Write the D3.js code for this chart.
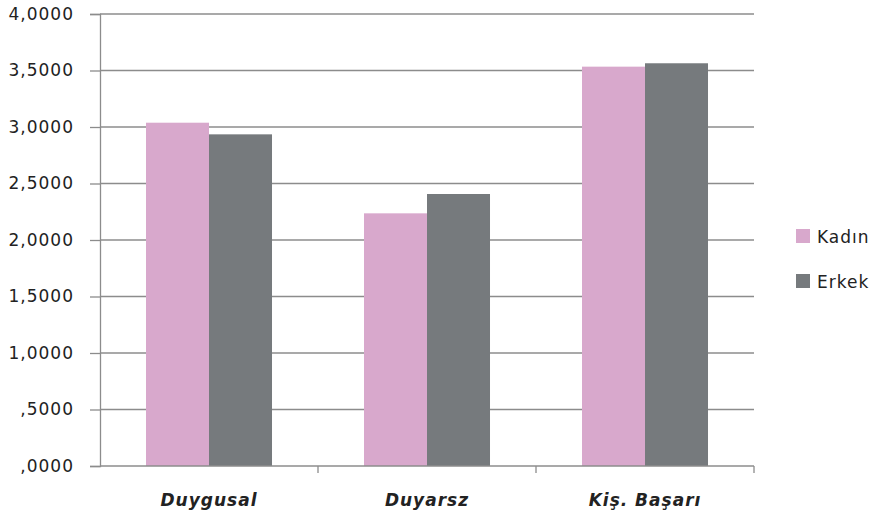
<!DOCTYPE html>
<html>
<head>
<meta charset="utf-8">
<script src="https://cdn.jsdelivr.net/npm/d3@7"></script>
<style>
  html, body { margin: 0; padding: 0; background: #fff; }
  svg { display: block; }
  text { font-family: "DejaVu Sans", sans-serif; }
</style>
</head>
<body>
<svg id="chart" width="876" height="515"></svg>
<script>
// Mean scores by dimension and gender
const categories = ["Duygusal", "Duyarsz", "Kiş. Başarı"];
const seriesNames = ["Kadın", "Erkek"];
const kadin = [3.038, 2.236, 3.534];
const erkek = [2.935, 2.407, 3.564];
const yTicks = [0, 0.5, 1, 1.5, 2, 2.5, 3, 3.5, 4];

const colors = { "Kadın": "#d8a8cc", "Erkek": "#767a7d" };
const textColor = "#222";
const lineColor = "#8c8c8c";
const fmt = v => {
  const s = v.toFixed(4).replace(".", ",");
  return s.startsWith("0") ? s.slice(1) : s;
};

const svg = d3.select("#chart");
const W = 876, H = 515;
const margin = { left: 100, right: W - 754, top: 14, bottom: H - 466 };

const x = d3.scaleBand().domain(categories).range([margin.left, W - margin.right]).paddingInner(0).paddingOuter(0);
const xInner = d3.scaleBand().domain(seriesNames).range([0, x.bandwidth()]).paddingOuter(0.73).paddingInner(0);
const y = d3.scaleLinear().domain([0, 4]).range([H - margin.bottom, margin.top]);

// Gridlines
svg.append("g")
  .selectAll("line")
  .data(yTicks.filter(t => t > 0))
  .join("line")
  .attr("x1", margin.left).attr("x2", W - margin.right)
  .attr("y1", d => y(d)).attr("y2", d => y(d))
  .attr("stroke", lineColor).attr("stroke-width", 1.3);

// Bars
const rows = categories.map((c, i) => ({ cat: c, values: [
  { key: "Kadın", value: kadin[i] }, { key: "Erkek", value: erkek[i] }
]}));
svg.append("g")
  .selectAll("g")
  .data(rows)
  .join("g")
  .attr("transform", d => `translate(${x(d.cat)},0)`)
  .selectAll("rect")
  .data(d => d.values)
  .join("rect")
  .attr("x", d => xInner(d.key))
  .attr("width", xInner.bandwidth())
  .attr("y", d => y(d.value))
  .attr("height", d => y(0) - y(d.value))
  .attr("fill", d => colors[d.key]);

// Y axis
const yAxis = svg.append("g")
  .attr("transform", `translate(${margin.left},0)`)
  .call(d3.axisLeft(y).tickValues(yTicks).tickFormat(fmt).tickSize(10).tickPadding(16));
yAxis.select(".domain").attr("stroke", lineColor).attr("stroke-width", 1.3);
yAxis.selectAll(".tick line").attr("stroke", lineColor).attr("stroke-width", 1.3);
yAxis.selectAll(".tick text")
  .attr("fill", textColor)
  .style("font-family", "'DejaVu Sans', sans-serif")
  .style("font-size", "17px")
  .style("letter-spacing", "1px");

// X axis with boundary ticks
const xg = svg.append("g").attr("transform", `translate(0,${y(0)})`);
xg.append("line")
  .attr("x1", margin.left).attr("x2", W - margin.right)
  .attr("stroke", lineColor).attr("stroke-width", 1.3);
const bounds = categories.map(c => x(c)).concat([x(categories[categories.length - 1]) + x.bandwidth()]);
xg.selectAll("line.b").data(bounds.slice(1)).join("line")
  .attr("class", "b")
  .attr("x1", d => d).attr("x2", d => d)
  .attr("y1", 0).attr("y2", 7)
  .attr("stroke", lineColor).attr("stroke-width", 1.3);
xg.selectAll("text").data(categories).join("text")
  .attr("x", d => x(d) + x.bandwidth() / 2)
  .attr("y", 40)
  .attr("text-anchor", "middle")
  .attr("fill", textColor)
  .style("font-size", "17px")
  .style("letter-spacing", "1px")
  .style("font-weight", "bold")
  .style("font-style", "italic")
  .text(d => d);

// Legend
const legend = svg.append("g").attr("transform", "translate(796,229)");
seriesNames.forEach((s, i) => {
  const g = legend.append("g").attr("transform", `translate(0,${i * 45})`);
  g.append("rect").attr("width", 14).attr("height", 14).attr("fill", colors[s]);
  g.append("text").attr("x", 21).attr("y", 14)
    .attr("fill", textColor)
    .style("font-size", "17px")
    .style("letter-spacing", "1px")
    .text(s);
});
</script>
</body>
</html>
